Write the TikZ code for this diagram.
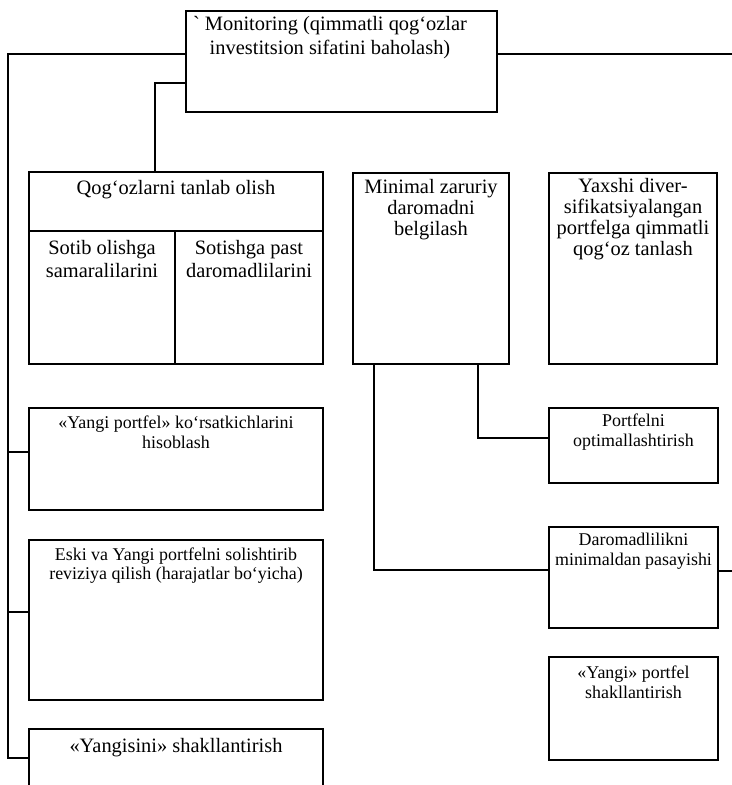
\documentclass[tikz,border=0pt]{standalone}
\usepackage{fontspec}
\setmainfont{Liberation Serif}
\begin{document}
\begin{tikzpicture}[x=1bp,y=-1bp,
  box/.style={draw, line width=1.6bp, rectangle, inner sep=0pt},
  conn/.style={line width=1.6bp},
  big/.style={anchor=north, align=center, inner sep=0pt, font=\fontsize{20.5}{21}\selectfont},
  small/.style={anchor=north, align=center, inner sep=0pt, font=\fontsize{18}{20}\selectfont}]
\clip (0,0) rectangle (732,785);
\fill[white] (0,0) rectangle (732,785);

% boxes
\node[box, minimum width=311bp, minimum height=101bp] (mon) at (341.5,61.5) {};
\node[box, minimum width=294bp, minimum height=192bp] (qog) at (176,268) {};
\node[box, minimum width=156bp, minimum height=191bp] (min) at (431,268.5) {};
\node[box, minimum width=168bp, minimum height=191bp] (yax) at (633,268.5) {};
\node[box, minimum width=294bp, minimum height=102bp] (hisob) at (176,459) {};
\node[box, minimum width=294bp, minimum height=160bp] (eski) at (176,620) {};
\node[box, minimum width=294bp, minimum height=80bp] (yang) at (176,769) {};
\node[box, minimum width=169bp, minimum height=75bp] (port) at (633.5,445.5) {};
\node[box, minimum width=169bp, minimum height=101bp] (darom) at (633.5,577.5) {};
\node[box, minimum width=169bp, minimum height=103bp] (yport) at (633.5,708.5) {};

% texts
\node[big, font=\fontsize{20.5}{24}\selectfont] (mont) at (330,16) {\textasciigrave\ Monitoring (qimmatli qog‘ozlar\\investitsion sifatini baholash)};
\node[big] (qogt) at (176,180) {Qog‘ozlarni tanlab olish};
\node[big, font=\fontsize{20.5}{23}\selectfont] (sotibt) at (102,240) {Sotib olishga\\samaralilarini};
\node[big, font=\fontsize{20.5}{23}\selectfont] (sotisht) at (249,240) {Sotishga past\\daromadlilarini};
\node[big] (mint) at (431,179) {Minimal zaruriy\\daromadni\\belgilash};
\node[big] (yaxt) at (633,178) {Yaxshi diver-\\sifikatsiyalangan\\portfelga qimmatli\\qog‘oz tanlash};
\node[big] (yangt) at (176,738) {«Yangisini» shakllantirish};
\node[small] (hisobt) at (176,415.5) {«Yangi portfel» ko‘rsatkichlarini\\hisoblash};
\node[small, font=\fontsize{18}{19.5}\selectfont] (eskit) at (176,547.5) {Eski va Yangi portfelni solishtirib\\reviziya qilish (harajatlar bo‘yicha)};
\node[small] (portt) at (633.5,413.5) {Portfelni\\optimallashtirish};
\node[small] (daromt) at (633.5,532.5) {Daromadlilikni\\minimaldan pasayishi};
\node[small] (yportt) at (633.5,665.5) {«Yangi» portfel\\shakllantirish};

% divider inside Qog'ozlarni box
\coordinate (qdiv) at (175,231);
\draw[conn] (qdiv -| qog.west) -- (qdiv -| qog.east);
\draw[conn] (qdiv) -- (qdiv |- qog.south);

% junction coordinates
\coordinate (trunk) at (8,54);
\coordinate (rend) at (732,54);
\coordinate (qbend) at (155,83);
\coordinate (jh) at (8,452);
\coordinate (je) at (8,612);
\coordinate (jy) at (8,758);
\coordinate (mb1) at (374,570);
\coordinate (mb2) at (478,438);
\coordinate (dend) at (732,571);

% connectors
\draw[conn] (trunk -| mon.west) -- (trunk) -- (jy) -- (jy -| yang.west);
\draw[conn] (rend -| mon.east) -- (rend);
\draw[conn] (jh) -- (jh -| hisob.west);
\draw[conn] (je) -- (je -| eski.west);
\draw[conn] (qbend -| mon.west) -- (qbend) -- (qbend |- qog.north);
\draw[conn] (mb1 |- min.south) -- (mb1) -- (mb1 -| darom.west);
\draw[conn] (mb2 |- min.south) -- (mb2) -- (mb2 -| port.west);
\draw[conn] (dend -| darom.east) -- (dend);
\end{tikzpicture}
\end{document}
